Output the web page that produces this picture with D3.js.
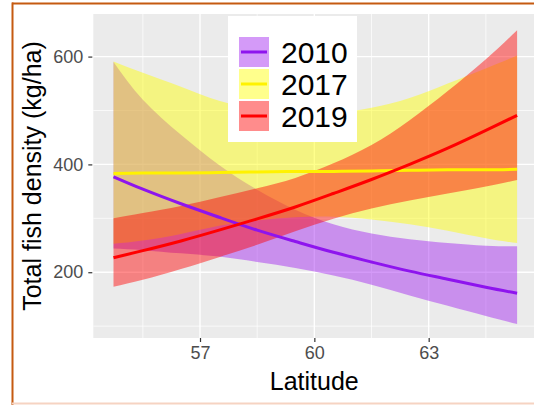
<!DOCTYPE html>
<html>
<head>
<meta charset="utf-8">
<script src="https://cdn.jsdelivr.net/npm/d3@7"></script>
<style>
  html, body { margin: 0; padding: 0; background: #ffffff; }
  svg { display: block; }
  text { font-family: "Liberation Sans", Arial, sans-serif; }
</style>
</head>
<body>
<svg id="chart" width="534" height="405"></svg>
<script>
// ---- data ----
const latitude  = [54.73, 55.5, 56.5, 57.5, 58.5, 59.5, 60.5, 61.5, 62.5, 63.5, 64.5, 65.32];
const fit2010   = [377, 354, 327, 302, 278, 257, 237, 219, 202, 187, 172, 161];
const lower2010 = [244, 241, 235, 229, 219, 208, 194, 177, 157, 138, 119, 104];
const upper2010 = [590, 520, 455, 399, 353, 316, 289, 272, 261, 254, 249, 248];
const fit2017   = [383, 384, 384, 385, 386, 387, 387, 388, 389, 390, 390, 391];
const lower2017 = [253, 259, 271, 286, 296, 302, 303, 298, 289, 277, 263, 254];
const upper2017 = [591, 570, 544, 518, 503, 496, 495, 505, 523, 550, 578, 602];
const fit2019   = [227, 240, 258, 278, 299, 321, 346, 372, 400, 430, 463, 491];
const lower2019 = [173, 186, 206, 228, 251, 276, 299, 318, 333, 346, 359, 371];
const upper2019 = [300, 310, 323, 339, 356, 375, 402, 436, 482, 536, 595, 649];

const years = ["2010", "2017", "2019"];
const xTicks = [57, 60, 63];
const xMinor = [55.5, 58.5, 61.5, 64.5];
const yTicks = [200, 400, 600];
const yMinor = [100, 300, 500];

const seriesColors = { "2010": "#A020F0", "2017": "#FFFF00", "2019": "#FF0000" };
const lineColors   = { "2010": "#8E14EE", "2017": "#FFF200", "2019": "#FF0000" };
const fillAlpha = 0.45;

const series = [
  { year: "2010", fit: fit2010, lo: lower2010, hi: upper2010 },
  { year: "2017", fit: fit2017, lo: lower2017, hi: upper2017 },
  { year: "2019", fit: fit2019, lo: lower2019, hi: upper2019 }
];

// ---- layout ----
const svg = d3.select("#chart");
const x = d3.scaleLinear().domain([54.2, 65.85]).range([93.3, 537.3]);
const y = d3.scaleLinear().domain([78, 679]).range([338, 14]);
const panel = { x0: x(54.2), x1: x(65.85), y0: y(679), y1: y(78) };

// orange frame
svg.append("line").attr("x1", 12).attr("x2", 534).attr("y1", 3.5).attr("y2", 3.5)
  .attr("stroke", "#C55A11").attr("stroke-width", 2);
svg.append("line").attr("x1", 12.5).attr("x2", 12.5).attr("y1", 2.5).attr("y2", 405)
  .attr("stroke", "#C55A11").attr("stroke-width", 2);
svg.append("line").attr("x1", 12).attr("x2", 534).attr("y1", 403.5).attr("y2", 403.5)
  .attr("stroke", "#F6D3C2").attr("stroke-width", 2);

// panel
svg.append("rect").attr("x", panel.x0).attr("y", panel.y0)
  .attr("width", panel.x1 - panel.x0).attr("height", panel.y1 - panel.y0)
  .attr("fill", "#EBEBEB");

const grid = svg.append("g");
yMinor.forEach(v => grid.append("line").attr("x1", panel.x0).attr("x2", panel.x1)
  .attr("y1", y(v)).attr("y2", y(v)).attr("stroke", "#fff").attr("stroke-width", 0.7));
xMinor.forEach(v => grid.append("line").attr("y1", panel.y0).attr("y2", panel.y1)
  .attr("x1", x(v)).attr("x2", x(v)).attr("stroke", "#fff").attr("stroke-width", 0.7));
yTicks.forEach(v => grid.append("line").attr("x1", panel.x0).attr("x2", panel.x1)
  .attr("y1", y(v)).attr("y2", y(v)).attr("stroke", "#fff").attr("stroke-width", 1.4));
xTicks.forEach(v => grid.append("line").attr("y1", panel.y0).attr("y2", panel.y1)
  .attr("x1", x(v)).attr("x2", x(v)).attr("stroke", "#fff").attr("stroke-width", 1.4));

// ribbons
const area = d3.area()
  .x(d => x(d.lat)).y0(d => y(d.lo)).y1(d => y(d.hi))
  .curve(d3.curveNatural);
const line = d3.line()
  .x(d => x(d.lat)).y(d => y(d.fit))
  .curve(d3.curveNatural);

const rows = s => latitude.map((lat, i) => ({ lat, fit: s.fit[i], lo: s.lo[i], hi: s.hi[i] }));

series.forEach(s => {
  svg.append("path").datum(rows(s)).attr("d", area)
    .attr("fill", seriesColors[s.year]).attr("fill-opacity", fillAlpha);
});
series.forEach(s => {
  svg.append("path").datum(rows(s)).attr("d", line)
    .attr("fill", "none").attr("stroke", lineColors[s.year]).attr("stroke-width", 3);
});

// axes
const xAxis = d3.axisBottom(x).tickValues(xTicks).tickSize(4).tickPadding(4).tickFormat(d3.format("d"));
const gx = svg.append("g").attr("transform", `translate(0,${panel.y1})`).call(xAxis);
gx.select(".domain").remove();
gx.selectAll(".tick line").attr("stroke", "#333333").attr("stroke-width", 1.2);
gx.selectAll(".tick text").attr("fill", "#4D4D4D").attr("font-size", 18)
  .attr("font-family", "Liberation Sans, Arial, sans-serif").attr("dy", "0.72em");

const yAxis = d3.axisLeft(y).tickValues(yTicks).tickSize(4).tickPadding(5).tickFormat(d3.format("d"));
const gy = svg.append("g").attr("transform", `translate(${panel.x0 - 1},0)`).call(yAxis);
gy.select(".domain").remove();
gy.selectAll(".tick line").attr("stroke", "#333333").attr("stroke-width", 1.2);
gy.selectAll(".tick text").attr("fill", "#4D4D4D").attr("font-size", 18)
  .attr("font-family", "Liberation Sans, Arial, sans-serif");

// axis titles
svg.append("text").attr("x", (panel.x0 + panel.x1) / 2 - 1).attr("y", 390)
  .attr("text-anchor", "middle").attr("font-size", 25).attr("fill", "#000")
  .text("Latitude");
svg.append("text")
  .attr("transform", `translate(41,${(panel.y0 + panel.y1) / 2}) rotate(-90)`)
  .attr("text-anchor", "middle").attr("font-size", 25).attr("fill", "#000")
  .text("Total fish density (kg/ha)");

// legend
const lg = svg.append("g");
lg.append("rect").attr("x", 228).attr("y", 16).attr("width", 129).attr("height", 126).attr("fill", "#fff");
years.forEach((yr, i) => {
  const cy = 52 + i * 32;
  lg.append("rect").attr("x", 239).attr("y", cy - 15).attr("width", 30).attr("height", 30)
    .attr("fill", seriesColors[yr]).attr("fill-opacity", fillAlpha);
  lg.append("line").attr("x1", 241).attr("x2", 267).attr("y1", cy).attr("y2", cy)
    .attr("stroke", lineColors[yr]).attr("stroke-width", 3);
  lg.append("text").attr("x", 281).attr("y", cy + 10.7).attr("font-size", 30)
    .attr("fill", "#000").text(yr);
});
</script>
</body>
</html>
